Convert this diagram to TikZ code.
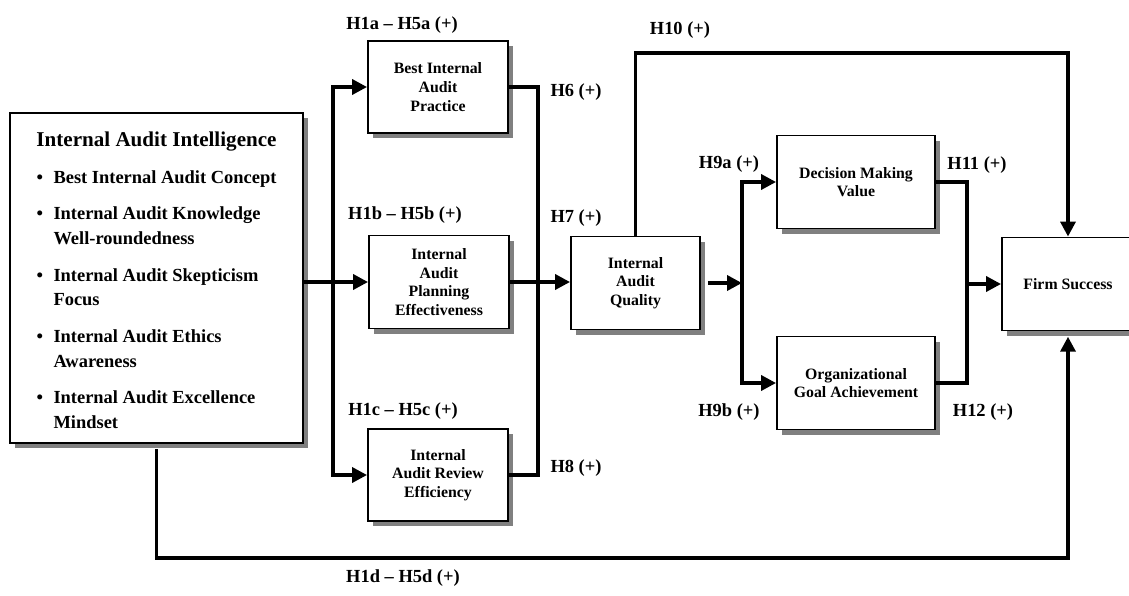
\documentclass[tikz,border=0pt]{standalone}
\usepackage{fontspec}
\setmainfont{Liberation Serif}
\usetikzlibrary{arrows.meta}
\usetikzlibrary{shadows}

\begin{document}
\begin{tikzpicture}[x=0.02cm,y=-0.02cm,
    box/.style={draw,line width=1.1pt,fill=white,align=center,inner sep=2pt,
        font=\bfseries\fontsize{9}{10.6}\selectfont,
        drop shadow={shadow xshift=3pt,shadow yshift=-3pt,fill=black!50,opacity=1}},
    flow/.style={line width=2pt},
    tip/.style={-{Triangle[length=8.5pt,width=8.5pt]}},
    hyp/.style={font=\bfseries\fontsize{10.5}{12}\selectfont}]

    % fix the page size
    \useasboundingbox (0,0) rectangle (1129,595);

    % independent variable
    \node[box,minimum width=5.86cm,minimum height=6.6cm] (iai) at (156.5,278)
        {{\fontsize{12}{14}\selectfont\rule{0pt}{15pt}Internal Audit Intelligence}\\[7.5pt]
        \fontsize{10.5}{14.2}\selectfont
        \begin{tabular}{@{}c@{\hspace{6pt}}l@{}}
            \textbullet & Best Internal Audit Concept\\[6.5pt]
            \textbullet & Internal Audit Knowledge\\
                        & Well-roundedness\\[6.5pt]
            \textbullet & Internal Audit Skepticism\\
                        & Focus\\[6.5pt]
            \textbullet & Internal Audit Ethics\\
                        & Awareness\\[6.5pt]
            \textbullet & Internal Audit Excellence\\
                        & Mindset
        \end{tabular}};

    % audit outcomes
    \node[box,minimum width=2.8cm,minimum height=1.84cm] (bip) at (438,87) {Best Internal\\Audit\\Practice};
    \node[box,minimum width=2.8cm,minimum height=1.86cm] (iape) at (439,282) {Internal\\Audit\\Planning\\Effectiveness};
    \node[box,minimum width=2.8cm,minimum height=1.84cm] (iare) at (438,475) {Internal\\Audit Review\\Efficiency};
    \node[box,minimum width=2.58cm,minimum height=1.86cm] (iaq) at (635.5,283) {Internal\\Audit\\Quality};

    % consequences
    \node[box,minimum width=3.16cm,minimum height=1.86cm] (dmv) at (856,182) {Decision Making\\Value};
    \node[box,minimum width=3.16cm,minimum height=1.86cm] (oga) at (856,383) {Organizational\\Goal Achievement};
    \node[box,minimum width=2.64cm,minimum height=1.86cm] (fs) at (1068,284) {Firm Success};

    % junction points
    \coordinate (tl) at (333,475);
    \coordinate (tr) at (538,475);
    \coordinate (tq) at (742,383);
    \coordinate (tf) at (967,383);
    \coordinate (tt) at (1068,53);
    \coordinate (tb) at (1068,558);

    % left fork
    \draw[flow,tip] (iai.east |- iape.west) -- (iape.west);
    \draw[flow,{Triangle[length=8.5pt,width=8.5pt]}-{Triangle[length=8.5pt,width=8.5pt]}] (bip.west) -| (tl) -- (iare.west);

    % right join
    \draw[flow] (bip.east) -| (tr) -- (iare.east);
    \draw[flow,tip] (iape.east) -- (iape.east -| iaq.west);

    % quality fork
    \draw[flow,tip] ([xshift=4pt]iaq.east) -- (iaq.east -| tq);
    \draw[flow,{Triangle[length=8.5pt,width=8.5pt]}-{Triangle[length=8.5pt,width=8.5pt]}] (dmv.west) -| (tq) -- (oga.west);

    % join to firm success
    \draw[flow] (dmv.east) -| (tf) -- (oga.east);
    \draw[flow,tip] (tf |- fs.west) -- (fs.west);

    % direct links
    \draw[flow,tip] (iaq.north) |- (tt) -- (fs.north);
    \draw[flow,tip] ([yshift=-3pt]iai.south) |- (tb) -- ([yshift=-3pt]fs.south);

    % hypothesis labels
    \foreach \nm/\px/\py/\txt in {h1a/402/25/H1a – H5a (+), h1b/405/215/H1b – H5b (+),
        h1c/403/411/H1c – H5c (+), h1d/403/578/H1d – H5d (+),
        h6/576/92/H6 (+), h7/576/218/H7 (+), h8/576/468/H8 (+),
        h10/680/30/H10 (+), h9a/729/164/H9a (+), h9b/729/412/H9b (+),
        h11/977/165/H11 (+), h12/983/412/H12 (+)}
        \node[hyp] (\nm) at (\px,\py) {\txt};

\end{tikzpicture}
\end{document}
